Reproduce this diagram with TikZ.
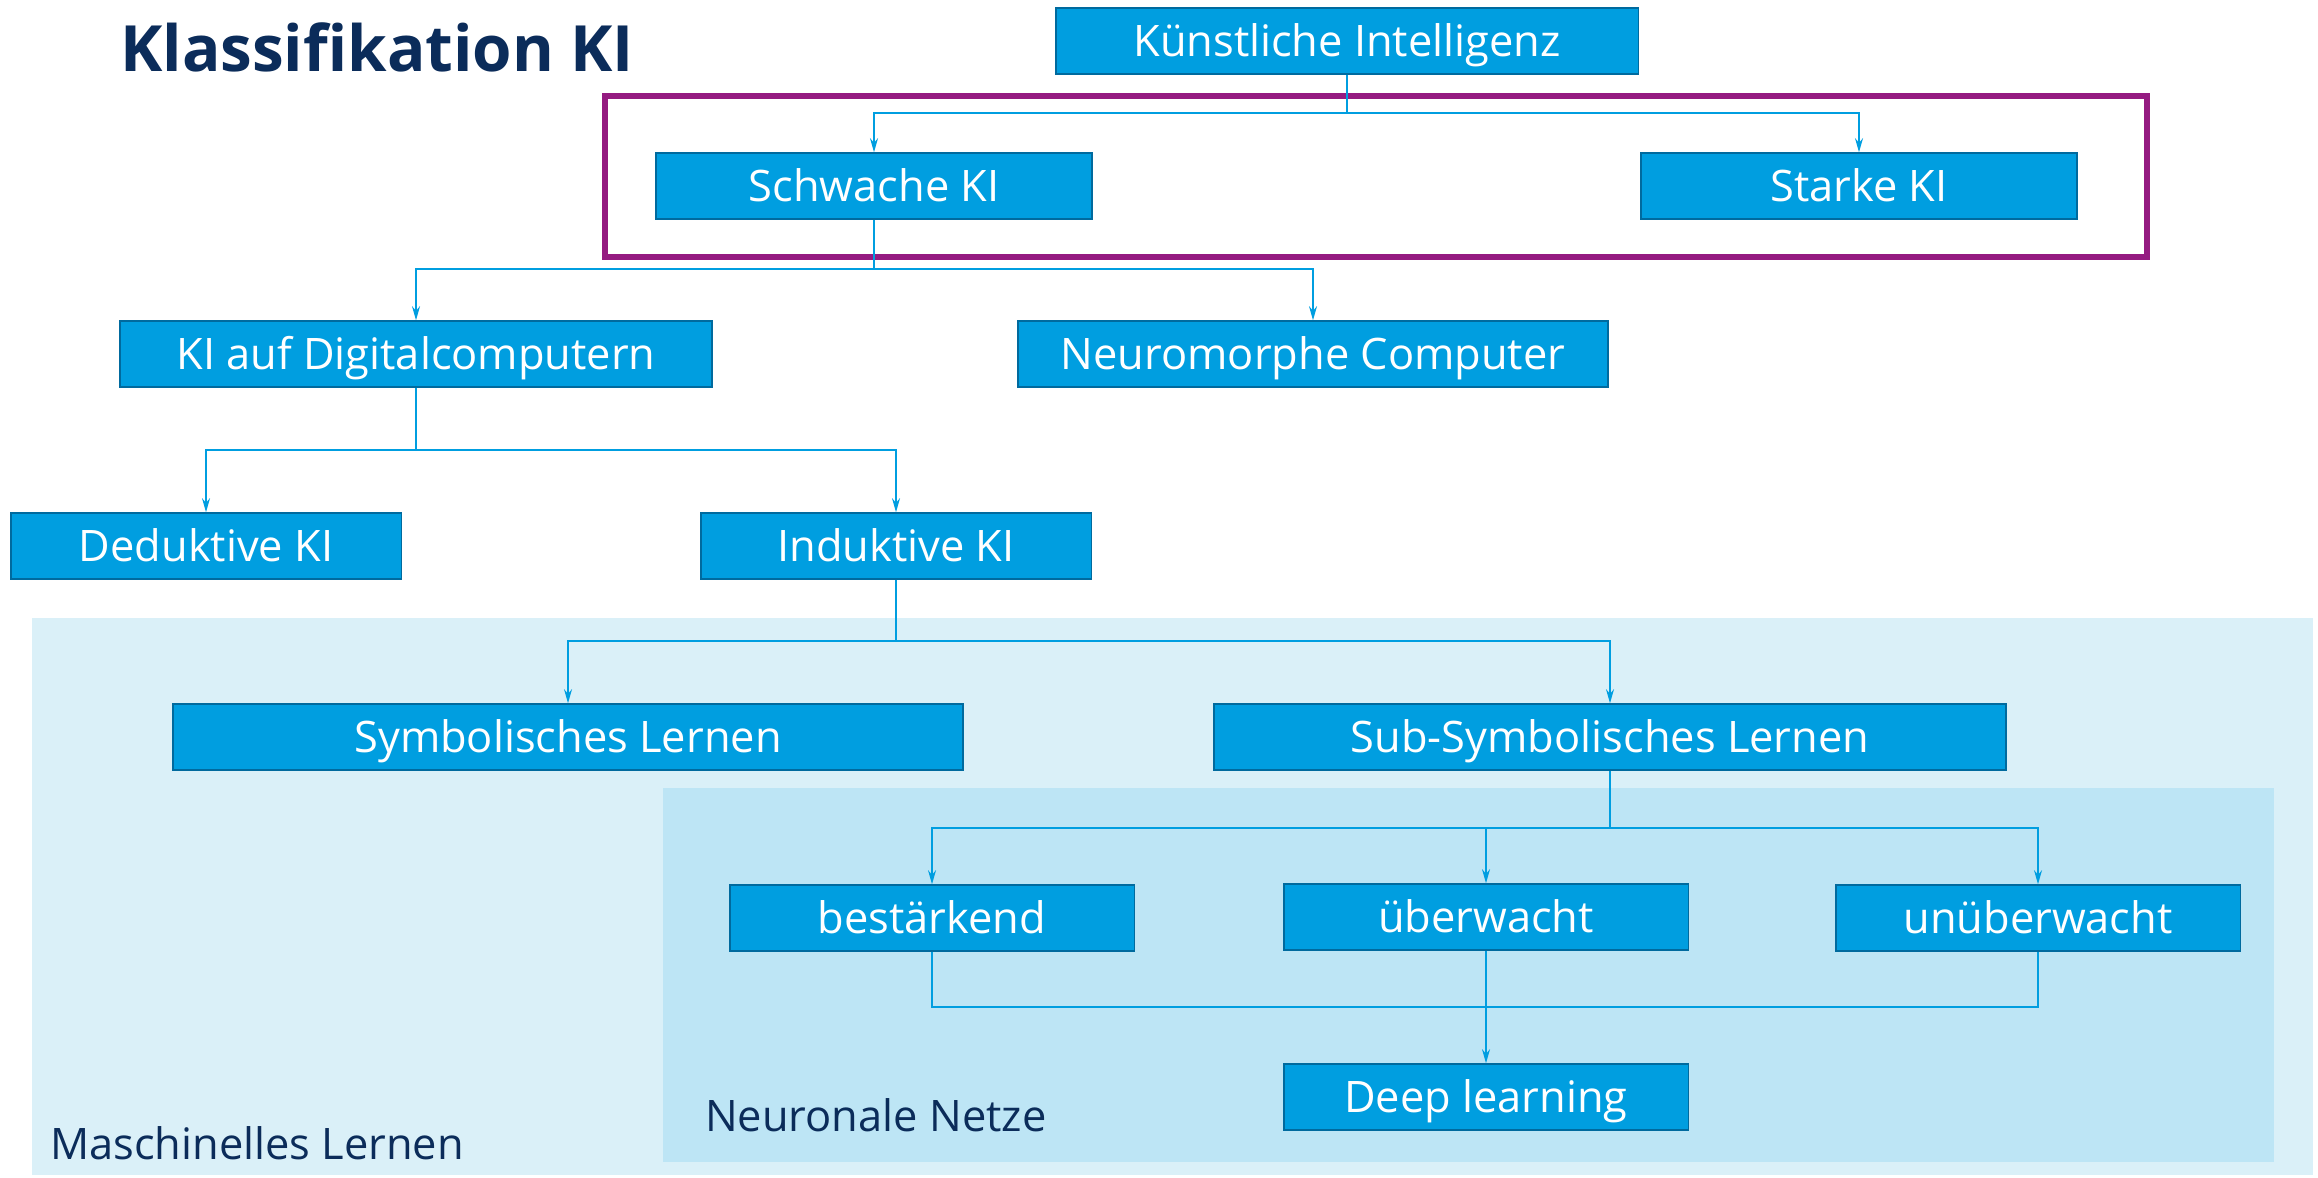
\documentclass[tikz,border=0pt]{standalone}
\usepackage{fontspec}
\setmainfont{Open Sans}
\usepackage{tikz}
\usetikzlibrary{arrows.meta, positioning}
\tikzset{>=stealth}
\definecolor{kiblue}{HTML}{009EE0}
\definecolor{kiedge}{HTML}{006A9E}
\definecolor{kinavy}{HTML}{0B2C5A}
\definecolor{kipurple}{HTML}{951B81}
\definecolor{mlback}{HTML}{DAF0F8}
\definecolor{nnback}{HTML}{BDE5F5}
\tikzset{
  kibox/.style={draw=kiedge, line width=1.1pt, fill=kiblue, text=white, inner sep=0pt,
    minimum height=1.31cm, text height=17.6pt, text depth=0pt,
    font=\fontsize{24.7}{29}\selectfont},
  link/.style={draw=kiblue, line width=1.2pt},
  arr/.style={link, -{Stealth[length=8pt, width=4.5pt]}},
  areatext/.style={anchor=west, text=kinavy, font=\fontsize{24.7}{29}\selectfont}
}

\begin{document}
\begin{tikzpicture}[x=0.02cm, y=-0.02cm]
			\useasboundingbox (0,0) rectangle (2318,1177);
			% background areas
			\fill[mlback] (32,618) rectangle (2313,1175);
			\fill[nnback] (663,788) rectangle (2274,1162);
			\node[areatext] (mllabel) at (44,1143) {Maschinelles Lernen};
			\node[areatext] (nnlabel) at (699,1115) {Neuronale Netze};
			\draw[kipurple, line width=3.4pt] (605,96) rectangle (2147,257);
			\node[anchor=west, text=kinavy, font=\fontsize{36.3}{42}\selectfont\bfseries] (title) at (114,47) {Klassifikation KI};
			% boxes
			\node[kibox, minimum width=11.66cm] (ki) at (1347,41) {Künstliche Intelligenz};
			\node[kibox, minimum width=8.72cm] (schwach) at (874,186) {Schwache KI};
			\node[kibox, minimum width=8.72cm] (stark) at (1859,186) {Starke KI};
			\node[kibox, minimum width=11.86cm] (digital) at (416,354) {KI auf Digitalcomputern};
			\node[kibox, minimum width=11.8cm] (neuro) at (1313,354) {Neuromorphe Computer};
			\node[kibox, minimum width=7.82cm] (dedukt) at (206,546) {Deduktive KI};
			\node[kibox, minimum width=7.82cm] (indukt) at (896,546) {Induktive KI};
			\node[kibox, minimum width=15.82cm] (symb) at (568,737) {Symbolisches Lernen};
			\node[kibox, minimum width=15.86cm] (subsymb) at (1610,737) {Sub-Symbolisches Lernen};
			\node[kibox, minimum width=8.1cm] (best) at (932,918) {bestärkend};
			\node[kibox, minimum width=8.1cm] (ueb) at (1486,917) {überwacht};
			\node[kibox, minimum width=8.1cm] (unueb) at (2038,918) {unüberwacht};
			\node[kibox, minimum width=8.1cm] (deep) at (1486,1097) {Deep learning};
			% connectors
			\coordinate (b1) at (1347,113);
			\draw[link] (ki) -- (b1);
			\draw[arr] (b1) -| (schwach);
			\draw[arr] (b1) -| (stark);
			\coordinate (b2) at (874,269);
			\draw[link] (schwach) -- (b2);
			\draw[arr] (b2) -| (digital);
			\draw[arr] (b2) -| (neuro);
			\coordinate (b3) at (416,450);
			\draw[link] (digital) -- (b3);
			\draw[arr] (b3) -| (dedukt);
			\draw[arr] (b3) -| (indukt);
			\coordinate (b4) at (896,641);
			\draw[link] (indukt) -- (b4);
			\draw[arr] (b4) -| (symb);
			\draw[arr] (b4) -| (subsymb);
			\coordinate (b5) at (1610,828);
			\draw[link] (subsymb) -- (b5);
			\draw[arr] (b5) -| (best);
			\draw[arr] (b5) -| (ueb);
			\draw[arr] (b5) -| (unueb);
			\coordinate (b6) at (1486,1007);
			\draw[link] (best) |- (b6);
			\draw[link] (unueb) |- (b6);
			\draw[arr] (ueb) -- (deep);
		\end{tikzpicture}
\end{document}
